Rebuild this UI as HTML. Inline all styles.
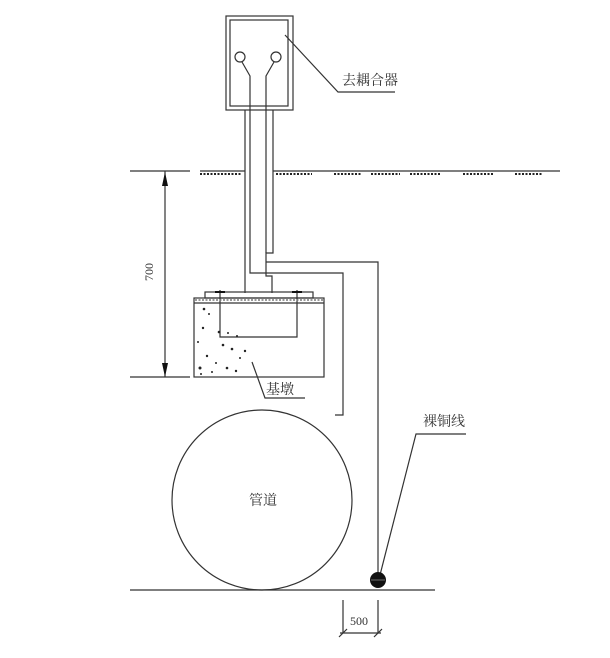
<!DOCTYPE html>
<html><head><meta charset="utf-8"><style>
html,body{margin:0;padding:0;background:#fff;}
svg{display:block;}
text{font-family:"Liberation Serif","Noto Serif CJK SC","Noto Sans CJK SC",serif;fill:#333;}
</style></head><body>
<svg width="610" height="658" viewBox="0 0 610 658" xmlns="http://www.w3.org/2000/svg">
<g fill="none" stroke="#333" stroke-width="1.2">
<!-- decoupler box -->
<rect x="226" y="16" width="67" height="94"/>
<rect x="230" y="20" width="58" height="86"/>
<circle cx="240" cy="57" r="5"/>
<circle cx="276" cy="57" r="5"/>
<polyline points="242,62 250,76 250,273 343,273 343,415 335,415"/>
<polyline points="274,62 266,76 266,253"/>
<!-- pipe -->
<line x1="245" y1="110" x2="245" y2="293"/>
<polyline points="273,110 273,253 266,253 266,262 266,276 272,276 272,293"/>
<polyline points="266,262 378,262 378,575"/>
<!-- leader 去耦合器 -->
<polyline points="285,35 338,92 395,92"/>
<!-- ground -->
<line x1="130" y1="171" x2="190" y2="171"/>
<line x1="200" y1="171" x2="245" y2="171"/>
<line x1="273" y1="171" x2="560" y2="171"/>
<!-- dimension 700 -->
<line x1="165" y1="171" x2="165" y2="377"/>
<line x1="130" y1="377" x2="190" y2="377"/>
<!-- plate & foundation -->
<rect x="205" y="292" width="108" height="6"/>
<rect x="194" y="298" width="130" height="79"/>
<line x1="194" y1="303" x2="324" y2="303"/>
<polyline points="220,290 220,337 297,337 297,290"/>
<!-- 基墩 leader -->
<polyline points="252,362 265,398 305,398"/>
<!-- circle pipe -->
<circle cx="262" cy="500" r="90"/>
<!-- bottom line -->
<line x1="130" y1="590" x2="435" y2="590"/>
<!-- 裸铜线 leader -->
<polyline points="380,575 416,434 466,434"/>
<!-- dim 500 -->
<line x1="343" y1="600" x2="343" y2="633"/>
<line x1="378" y1="600" x2="378" y2="633"/>
<line x1="340" y1="633" x2="381" y2="633"/>
<line x1="339" y1="637" x2="347" y2="629"/>
<line x1="374" y1="637" x2="382" y2="629"/>
</g>
<!-- arrows -->
<polygon points="165,172 162,186 168,186" fill="#111"/>
<polygon points="165,377 162,363 168,363" fill="#111"/>
<!-- bolts -->
<g stroke="#111" stroke-width="2"><line x1="215" y1="292" x2="225" y2="292"/><line x1="292" y1="292" x2="302" y2="292"/></g>
<!-- ground hatch -->
<g stroke="#222" stroke-width="2" stroke-dasharray="2,1.5">
<line x1="200" y1="174" x2="242" y2="174"/>
<line x1="276" y1="174" x2="312" y2="174"/>
<line x1="334" y1="174" x2="362" y2="174"/>
<line x1="371" y1="174" x2="400" y2="174"/>
<line x1="410" y1="174" x2="440" y2="174"/>
<line x1="463" y1="174" x2="494" y2="174"/>
<line x1="515" y1="174" x2="543" y2="174"/>
<line x1="195" y1="300" x2="323" y2="300" stroke-width="1.5" stroke="#777"/>
</g>
<!-- concrete dots -->
<g fill="#222">
<circle cx="204" cy="309" r="1.3"/><circle cx="209" cy="314" r="1"/><circle cx="203" cy="328" r="1.2"/><circle cx="219" cy="332" r="1.3"/><circle cx="228" cy="333" r="1"/><circle cx="198" cy="342" r="1"/><circle cx="223" cy="345" r="1.3"/><circle cx="232" cy="349" r="1.3"/><circle cx="245" cy="351" r="1.2"/><circle cx="207" cy="356" r="1.2"/><circle cx="216" cy="363" r="1"/><circle cx="200" cy="368" r="1.5"/><circle cx="227" cy="368" r="1.3"/><circle cx="236" cy="371" r="1.2"/><circle cx="201" cy="374" r="1"/><circle cx="240" cy="358" r="1"/><circle cx="212" cy="372" r="1"/><circle cx="237" cy="336" r="1"/>
</g>
<circle cx="378" cy="580" r="8" fill="#111"/>
<line x1="371" y1="580" x2="385" y2="580" stroke="#888" stroke-width="0.8"/>
<!-- text -->
<text x="342" y="85" font-size="14">去耦合器</text>
<text x="266" y="394" font-size="14">基墩</text>
<text x="423" y="426" font-size="14">裸铜线</text>
<text x="249" y="505" font-size="14">管道</text>
<text x="350" y="625" font-size="12">500</text>
<text transform="translate(153,272) rotate(-90)" x="0" y="0" font-size="12" text-anchor="middle">700</text>
</svg>
</body></html>
